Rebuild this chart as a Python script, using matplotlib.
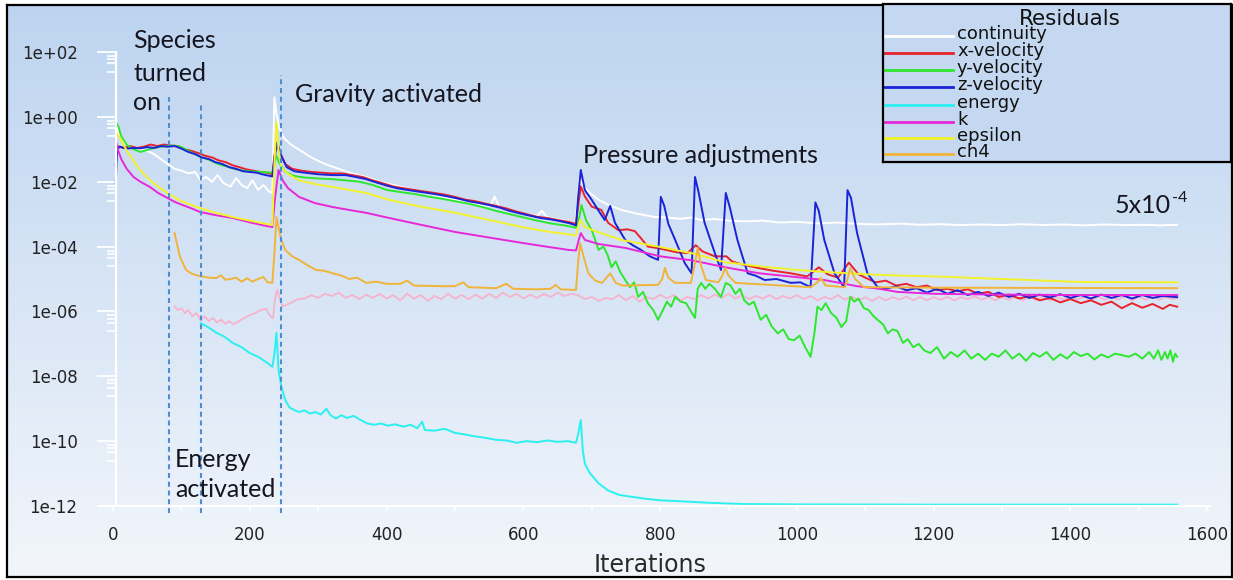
import matplotlib
matplotlib.use("Agg")
import matplotlib.pyplot as plt
import numpy as np
from matplotlib.ticker import FixedLocator, FuncFormatter

# residual histories (iteration, residual)
cont_it = [4, 7, 12, 20, 30, 40, 50, 60, 70, 80, 90, 100, 110, 120, 128, 136, 145, 153, 162, 172,
           180, 188, 196, 204, 212, 220, 228, 233, 236, 239, 243, 250, 260, 275, 290, 310, 330, 350,
           370, 390, 420, 450, 480, 500, 530, 552, 558, 565, 590, 620, 627, 635, 660, 676, 682, 688,
           697, 710, 725, 743, 765, 790, 810, 830, 845, 860, 880, 900, 925, 950, 975, 1000, 1030,
           1060, 1090, 1120, 1150, 1180, 1210, 1240, 1270, 1300, 1330, 1360, 1390, 1420, 1450, 1480,
           1510, 1530, 1556]
cont = [7.9e-1, 3.5e-1, 2.0e-1, 1.4e-1, 1.1e-1, 1.0e-1, 8.9e-2, 7.1e-2, 5.0e-2, 3.5e-2, 2.5e-2,
        2.2e-2, 1.8e-2, 2.0e-2, 1.1e-2, 1.4e-2, 1.0e-2, 1.6e-2, 8.9e-3, 7.1e-3, 1.3e-2, 7.9e-3,
        6.3e-3, 1.1e-2, 5.6e-3, 7.9e-3, 5.0e-3, 4.5e-3, 4.0e0, 1.26e0, 4.5e-1, 2.2e-1, 1.4e-1,
        8.9e-2, 5.6e-2, 3.5e-2, 2.5e-2, 1.8e-2, 1.4e-2, 1.0e-2, 7.1e-3, 5.0e-3, 3.5e-3, 2.8e-3,
        2.0e-3, 1.8e-3, 3.5e-3, 1.6e-3, 1.1e-3, 8.9e-4, 1.26e-3, 7.9e-4, 6.3e-4, 5.0e-4, 1.26e-2,
        7.1e-3, 4.5e-3, 2.8e-3, 1.9e-3, 1.35e-3, 1.05e-3, 8.3e-4, 7.9e-4, 7.2e-4, 7.9e-4, 6.6e-4,
        7.1e-4, 6.3e-4, 6.0e-4, 6.3e-4, 5.5e-4, 5.8e-4, 5.2e-4, 5.5e-4, 5.0e-4, 4.8e-4, 5.1e-4,
        4.7e-4, 4.9e-4, 4.6e-4, 4.8e-4, 4.6e-4, 4.9e-4, 4.6e-4, 4.8e-4, 4.5e-4, 4.8e-4, 4.6e-4,
        4.7e-4, 4.5e-4, 4.7e-4]

xvel_it = [4, 6, 15, 25, 35, 45, 55, 65, 75, 85, 95, 105, 115, 125, 135, 145, 155, 165, 175, 185,
           195, 205, 215, 225, 233, 236, 239, 244, 252, 262, 275, 290, 305, 320, 335, 350, 365, 380,
           395, 410, 425, 440, 455, 470, 485, 500, 515, 530, 545, 560, 575, 590, 605, 620, 635, 650,
           665, 677, 681, 684, 690, 700, 714, 724, 739, 752, 763, 772, 782, 797, 812, 825, 840, 852,
           862, 880, 897, 905, 920, 943, 965, 991, 1015, 1032, 1045, 1060, 1076, 1090, 1100, 1115,
           1130, 1145, 1160, 1175, 1190, 1205, 1220, 1235, 1250, 1265, 1280, 1295, 1310, 1325, 1340,
           1355, 1370, 1385, 1400, 1415, 1430, 1445, 1460, 1475, 1490, 1505, 1520, 1535, 1545, 1556]
xvel = [3.2e-2, 1.26e-1, 1.1e-1, 1.26e-1, 1.1e-1, 1.2e-1, 1.4e-1, 1.26e-1, 1.4e-1, 1.3e-1, 1.26e-1,
        1.0e-1, 8.9e-2, 7.6e-2, 6.3e-2, 5.6e-2, 4.5e-2, 4.0e-2, 3.2e-2, 2.8e-2, 2.4e-2, 2.2e-2,
        2.0e-2, 1.9e-2, 1.7e-2, 6.3e-2, 1.4e-1, 7.9e-2, 3.5e-2, 2.5e-2, 2.2e-2, 2.0e-2, 1.9e-2,
        1.8e-2, 1.8e-2, 1.6e-2, 1.4e-2, 1.1e-2, 8.9e-3, 7.1e-3, 6.3e-3, 5.6e-3, 5.0e-3, 4.5e-3,
        4.0e-3, 3.4e-3, 2.8e-3, 2.5e-3, 2.1e-3, 1.8e-3, 1.5e-3, 1.2e-3, 1.0e-3, 8.3e-4, 7.6e-4,
        6.6e-4, 5.8e-4, 5.0e-4, 2.5e-3, 7.1e-3, 3.5e-3, 1.7e-3, 1.35e-3, 5.4e-4, 3.2e-4, 3.4e-4,
        3.0e-4, 1.8e-4, 1.0e-4, 8.9e-5, 7.6e-5, 6.6e-5, 6.3e-5, 1.1e-4, 7.1e-5, 5.0e-5, 5.0e-5,
        3.5e-5, 2.8e-5, 2.2e-5, 1.8e-5, 1.5e-5, 1.2e-5, 2.3e-5, 1.4e-5, 1.1e-5, 3.2e-5, 1.4e-5,
        1.1e-5, 7.9e-6, 8.9e-6, 6.3e-6, 7.1e-6, 5.6e-6, 6.3e-6, 4.5e-6, 5.0e-6, 4.2e-6, 4.8e-6,
        3.5e-6, 4.0e-6, 2.8e-6, 3.3e-6, 2.5e-6, 3.0e-6, 2.2e-6, 2.6e-6, 1.9e-6, 2.4e-6, 1.8e-6,
        2.2e-6, 1.6e-6, 2.0e-6, 1.26e-6, 1.8e-6, 1.3e-6, 1.7e-6, 1.2e-6, 1.6e-6, 1.4e-6]

yvel_it = [4, 8, 12, 20, 30, 40, 50, 60, 70, 80, 90, 100, 110, 120, 130, 140, 150, 160, 170, 180,
           190, 200, 215, 233, 236, 238, 244, 252, 265, 280, 300, 320, 340, 360, 380, 400, 420, 440,
           460, 480, 500, 520, 540, 560, 580, 600, 620, 640, 660, 677, 681, 685, 692, 700, 710, 717,
           723, 729, 735, 742, 749, 756, 762, 768, 775, 782, 790, 797, 803, 810, 816, 822, 830, 838,
           845, 851, 855, 860, 866, 872, 880, 889, 896, 903, 910, 917, 923, 930, 937, 947, 955, 963,
           972, 980, 988, 996, 1004, 1012, 1020, 1026, 1030, 1036, 1042, 1050, 1058, 1065, 1072,
           1078, 1084, 1090, 1098, 1105, 1112, 1118, 1126, 1133, 1140, 1147, 1155, 1162, 1170, 1178,
           1186, 1195, 1205, 1215, 1225, 1235, 1245, 1255, 1265, 1275, 1285, 1295, 1305, 1315, 1325,
           1335, 1345, 1355, 1365, 1375, 1385, 1395, 1405, 1415, 1425, 1435, 1445, 1455, 1465, 1475,
           1485, 1495, 1505, 1515, 1522, 1528, 1533, 1538, 1542, 1546, 1550, 1553, 1556]
yvel = [7.1e-1, 5.0e-1, 2.5e-1, 1.4e-1, 1.0e-1, 8.3e-2, 9.5e-2, 1.1e-1, 1.2e-1, 1.26e-1, 1.3e-1,
        1.17e-1, 8.9e-2, 7.1e-2, 5.6e-2, 4.8e-2, 3.8e-2, 3.2e-2, 2.8e-2, 2.4e-2, 2.2e-2, 2.1e-2,
        2.0e-2, 1.9e-2, 3.2e-2, 6.6e-2, 3.5e-2, 2.0e-2, 1.5e-2, 1.35e-2, 1.26e-2, 1.2e-2, 1.1e-2,
        1.0e-2, 7.9e-3, 5.6e-3, 4.8e-3, 4.2e-3, 3.5e-3, 3.0e-3, 2.5e-3, 2.1e-3, 1.66e-3, 1.26e-3,
        1.0e-3, 7.9e-4, 6.3e-4, 5.2e-4, 4.5e-4, 3.8e-4, 6.3e-4, 1.9e-3, 6.3e-4, 3.2e-4, 7.9e-5,
        1.0e-4, 5.6e-5, 2.3e-5, 3.5e-5, 1.6e-5, 9.3e-6, 5.6e-6, 7.9e-6, 2.8e-6, 4.0e-6, 1.8e-6,
        1.1e-6, 5.5e-7, 1.0e-6, 2.0e-6, 1.4e-6, 2.8e-6, 2.0e-6, 1.8e-6, 1.0e-6, 6.3e-7, 5.0e-6,
        7.6e-6, 5.0e-6, 7.1e-6, 5.0e-6, 2.8e-6, 7.6e-6, 6.3e-6, 3.5e-6, 5.0e-6, 2.2e-6, 1.6e-6,
        2.0e-6, 5.5e-7, 7.9e-7, 3.5e-7, 2.1e-7, 2.8e-7, 1.4e-7, 1.3e-7, 1.8e-7, 7.9e-8, 4.0e-8,
        2.5e-7, 1.4e-6, 1.1e-6, 1.8e-6, 8.9e-7, 6.3e-7, 3.3e-7, 5.0e-7, 2.8e-6, 2.0e-6, 2.5e-6,
        1.26e-6, 1.1e-6, 7.1e-7, 5.5e-7, 4.0e-7, 2.1e-7, 2.8e-7, 2.5e-7, 1.07e-7, 1.4e-7, 7.9e-8,
        1.0e-7, 6.3e-8, 5.2e-8, 7.9e-8, 3.5e-8, 5.6e-8, 4.0e-8, 6.3e-8, 3.5e-8, 5.0e-8, 3.2e-8,
        5.0e-8, 4.0e-8, 6.3e-8, 3.5e-8, 5.0e-8, 3.0e-8, 5.2e-8, 4.0e-8, 5.6e-8, 3.2e-8, 4.8e-8,
        3.5e-8, 5.6e-8, 4.2e-8, 5.0e-8, 3.3e-8, 4.7e-8, 3.8e-8, 5.0e-8, 4.5e-8, 4.0e-8, 5.0e-8,
        3.5e-8, 5.6e-8, 3.5e-8, 6.3e-8, 3.2e-8, 5.6e-8, 3.5e-8, 6.3e-8, 2.8e-8, 5.0e-8, 4.0e-8]

zvel_it = [4, 6, 10, 20, 30, 40, 50, 60, 70, 80, 90, 100, 110, 120, 130, 140, 150, 160, 170, 180,
           190, 200, 210, 220, 233, 236, 240, 246, 254, 265, 280, 300, 320, 340, 355, 370, 385, 400,
           415, 430, 445, 460, 475, 490, 505, 520, 535, 550, 565, 580, 595, 610, 625, 640, 655, 668,
           677, 680, 684, 690, 700, 712, 719, 727, 734, 749, 760, 772, 785, 797, 801, 806, 812, 822,
           836, 846, 851, 856, 865, 880, 889, 896, 902, 913, 928, 940, 953, 970, 991, 1005, 1020,
           1027, 1032, 1040, 1055, 1069, 1074, 1079, 1088, 1103, 1118, 1130, 1145, 1160, 1175, 1190,
           1205, 1220, 1235, 1250, 1265, 1280, 1295, 1310, 1325, 1340, 1355, 1370, 1385, 1400, 1415,
           1430, 1445, 1460, 1475, 1490, 1505, 1520, 1535, 1556]
zvel = [8.9e-3, 1.0e-1, 1.2e-1, 1.05e-1, 1.1e-1, 1.07e-1, 1.17e-1, 1.1e-1, 1.26e-1, 1.2e-1, 1.26e-1,
        1.05e-1, 8.3e-2, 7.1e-2, 5.6e-2, 5.0e-2, 4.0e-2, 3.5e-2, 2.8e-2, 2.5e-2, 2.1e-2, 2.0e-2,
        1.9e-2, 1.66e-2, 1.45e-2, 5.0e-2, 1.66e-1, 6.3e-2, 2.8e-2, 2.1e-2, 1.9e-2, 1.7e-2, 1.6e-2,
        1.6e-2, 1.4e-2, 1.2e-2, 9.5e-3, 7.6e-3, 6.3e-3, 5.6e-3, 5.0e-3, 4.5e-3, 4.0e-3, 3.5e-3,
        3.0e-3, 2.5e-3, 2.2e-3, 1.9e-3, 1.6e-3, 1.26e-3, 1.05e-3, 8.9e-4, 7.6e-4, 6.9e-4, 6.0e-4,
        5.2e-4, 4.5e-4, 3.2e-3, 2.3e-2, 5.5e-3, 2.75e-3, 1.1e-3, 6.6e-4, 1.8e-3, 5.4e-4, 1.6e-4,
        1.1e-4, 7.9e-5, 5.0e-5, 3.9e-5, 3.4e-3, 1.8e-3, 5.0e-4, 1.6e-4, 3.1e-5, 1.5e-5, 1.4e-2,
        5.0e-3, 5.4e-4, 6.3e-5, 1.9e-5, 4.5e-3, 1.6e-3, 1.6e-4, 1.5e-5, 1.26e-5, 9.3e-6, 1.0e-5,
        7.6e-6, 7.9e-6, 5.6e-6, 2.3e-3, 1.26e-3, 1.6e-4, 1.5e-5, 5.6e-6, 5.5e-3, 3.2e-3, 2.6e-4,
        1.5e-5, 5.6e-6, 5.0e-6, 6.0e-6, 4.5e-6, 5.2e-6, 3.8e-6, 5.0e-6, 3.5e-6, 4.5e-6, 3.2e-6,
        4.0e-6, 3.0e-6, 3.8e-6, 2.8e-6, 3.5e-6, 2.6e-6, 3.3e-6, 2.7e-6, 3.4e-6, 2.6e-6, 3.2e-6,
        2.5e-6, 3.3e-6, 2.6e-6, 3.2e-6, 2.5e-6, 3.2e-6, 2.6e-6, 3.0e-6, 2.75e-6]

energy_it = [128, 140, 151, 163, 175, 188, 200, 212, 224, 233, 236, 239, 242, 246, 252, 258, 266,
             272, 280, 288, 296, 304, 312, 318, 326, 334, 342, 352, 362, 372, 382, 392, 402, 412,
             425, 435, 445, 452, 456, 470, 485, 500, 515, 530, 545, 560, 575, 590, 605, 620, 635,
             650, 665, 677, 680, 684, 687, 690, 697, 710, 724, 740, 760, 780, 800, 830, 870, 920,
             1000, 1200, 1556]
energy = [4.4e-7, 3.2e-7, 2.2e-7, 1.66e-7, 1.07e-7, 7.9e-8, 5.2e-8, 4.0e-8, 2.75e-8, 1.95e-8,
          5.0e-8, 2.2e-7, 1.6e-8, 5.0e-9, 1.8e-9, 1.1e-9, 8.9e-10, 7.9e-10, 8.9e-10, 7.1e-10,
          7.9e-10, 6.6e-10, 1.0e-9, 6.3e-10, 5.0e-10, 6.3e-10, 5.2e-10, 6.0e-10, 4.5e-10, 3.5e-10,
          3.2e-10, 3.5e-10, 3.0e-10, 3.3e-10, 2.8e-10, 3.2e-10, 2.5e-10, 4.0e-10, 2.2e-10, 2.1e-10,
          2.4e-10, 1.8e-10, 1.6e-10, 1.4e-10, 1.26e-10, 1.1e-10, 1.05e-10, 8.9e-11, 1.0e-10,
          9.3e-11, 1.05e-10, 9.5e-11, 1.0e-10, 8.9e-11, 1.6e-10, 4.5e-10, 5.0e-11, 2.0e-11,
          1.05e-11, 5.0e-12, 3.0e-12, 2.2e-12, 1.9e-12, 1.66e-12, 1.5e-12, 1.4e-12, 1.26e-12,
          1.15e-12, 1.12e-12, 1.1e-12, 1.1e-12]

k_it = [4, 7, 12, 20, 30, 40, 54, 66, 79, 90, 102, 115, 127, 150, 175, 200, 220, 233, 237, 242, 248,
        256, 272, 295, 321, 345, 370, 404, 450, 501, 550, 598, 640, 666, 677, 681, 684, 690, 710,
        749, 800, 845, 900, 945, 974, 1040, 1088, 1120, 1147, 1200, 1300, 1400, 1556]
k_res = [1.95e-1, 1.0e-1, 5.0e-2, 2.5e-2, 1.4e-2, 1.0e-2, 6.9e-3, 4.5e-3, 3.2e-3, 2.4e-3, 1.9e-3,
         1.5e-3, 1.17e-3, 9.3e-4, 7.6e-4, 5.6e-4, 4.5e-4, 4.0e-4, 3.2e-3, 2.3e-2, 1.1e-2, 6.3e-3,
         3.4e-3, 2.2e-3, 1.66e-3, 1.35e-3, 1.1e-3, 7.6e-4, 4.7e-4, 2.8e-4, 1.9e-4, 1.3e-4, 9.5e-5,
         7.9e-5, 7.6e-5, 1.6e-4, 2.6e-4, 1.6e-4, 1.2e-4, 9.1e-5, 5.0e-5, 3.8e-5, 2.2e-5, 1.5e-5,
         1.3e-5, 9.3e-6, 6.0e-6, 5.0e-6, 4.0e-6, 3.5e-6, 3.3e-6, 3.2e-6, 3.2e-6]

eps_it = [4, 9, 15, 22, 29, 40, 54, 66, 79, 100, 127, 150, 175, 200, 220, 233, 236, 239, 242, 246,
          255, 272, 295, 321, 345, 370, 404, 450, 501, 550, 598, 640, 666, 677, 680, 683, 690, 700,
          743, 797, 850, 895, 950, 1000, 1040, 1100, 1137, 1200, 1300, 1414, 1556]
eps = [3.5e-1, 2.5e-1, 1.4e-1, 7.9e-2, 4.7e-2, 2.2e-2, 1.1e-2, 7.1e-3, 4.5e-3, 2.5e-3, 1.55e-3,
       1.1e-3, 8.1e-4, 6.3e-4, 5.2e-4, 4.6e-4, 3.2e-2, 6.9e-1, 1.0e-1, 2.8e-2, 1.8e-2, 1.1e-2,
       8.5e-3, 6.9e-3, 5.6e-3, 4.5e-3, 2.75e-3, 1.7e-3, 1.1e-3, 6.6e-4, 4.0e-4, 2.8e-4, 2.4e-4,
       2.2e-4, 4.0e-4, 6.6e-4, 4.0e-4, 3.3e-4, 1.6e-4, 1.0e-4, 6.0e-5, 3.3e-5, 2.4e-5, 1.9e-5,
       1.66e-5, 1.4e-5, 1.3e-5, 1.2e-5, 1.0e-5, 8.1e-6, 7.9e-6]

ch4_it = [90, 94, 98, 103, 107, 114, 122, 130, 140, 151, 158, 164, 172, 180, 188, 196, 204, 212,
          220, 226, 233, 236, 239, 242, 246, 252, 262, 272, 285, 297, 309, 321, 333, 345, 357, 370,
          385, 400, 420, 430, 440, 480, 500, 512, 520, 560, 575, 585, 620, 640, 647, 655, 677, 680,
          683, 688, 695, 705, 715, 727, 735, 745, 797, 803, 807, 812, 822, 845, 850, 855, 860, 867,
          885, 891, 895, 900, 910, 1020, 1030, 1035, 1042, 1070, 1074, 1078, 1085, 1098, 1200, 1556]
ch4 = [2.6e-4, 1.1e-4, 4.8e-5, 2.8e-5, 1.9e-5, 1.5e-5, 1.3e-5, 1.2e-5, 1.1e-5, 1.07e-5, 1.3e-5,
       9.5e-6, 1.0e-5, 1.1e-5, 8.3e-6, 1.05e-5, 8.3e-6, 1.0e-5, 1.15e-5, 7.9e-6, 7.6e-6, 6.3e-5,
       8.1e-4, 4.0e-4, 1.6e-4, 7.9e-5, 5.0e-5, 3.9e-5, 2.6e-5, 1.9e-5, 1.8e-5, 1.5e-5, 1.3e-5,
       1.0e-5, 1.1e-5, 7.6e-6, 8.3e-6, 7.1e-6, 7.1e-6, 8.9e-6, 6.3e-6, 6.0e-6, 6.0e-6, 7.9e-6,
       5.6e-6, 5.2e-6, 7.1e-6, 5.0e-6, 4.8e-6, 5.0e-6, 6.6e-6, 4.8e-6, 4.6e-6, 3.2e-5, 1.26e-4,
       5.0e-5, 1.5e-5, 8.9e-6, 7.6e-6, 1.5e-5, 7.6e-6, 6.3e-6, 6.6e-6, 1.0e-5, 2.2e-5, 1.1e-5,
       7.6e-6, 7.6e-6, 2.5e-5, 9.1e-5, 2.5e-5, 9.3e-6, 7.9e-6, 1.26e-5, 2.2e-5, 1.26e-5, 7.6e-6,
       5.6e-6, 7.9e-6, 1.07e-5, 6.3e-6, 5.6e-6, 1.0e-5, 2.2e-5, 1.0e-5, 5.6e-6, 5.4e-6, 5.2e-6]

# unlabelled species residual (light pink trace)
spec_it = [90, 95, 100, 105, 110, 116, 122, 128, 134, 140, 146, 152, 158, 164, 170, 176, 184, 192,
           200, 208, 216, 224, 230, 234, 237, 240, 244, 248, 255, 262, 270, 280, 290, 300, 310, 320,
           330, 340, 350, 360, 370, 380, 390, 400, 410, 420, 430, 440, 450, 460, 470, 480, 490, 500,
           510, 520, 530, 540, 550, 560, 570, 580, 590, 600, 610, 620, 630, 640, 650, 660, 670, 680,
           690, 700, 710, 720, 730, 740, 750, 760, 770, 780, 790, 800, 810, 820, 830, 840, 850, 860,
           870, 880, 890, 900, 910, 920, 930, 940, 950, 960, 970, 980, 990, 1000, 1010, 1020, 1030,
           1040, 1050, 1060, 1070, 1080, 1090, 1100, 1110, 1120, 1130, 1140, 1150, 1160, 1170, 1180,
           1190, 1200, 1210, 1220, 1230, 1240, 1250, 1260, 1270, 1280, 1290, 1300, 1310, 1320, 1330,
           1340, 1350, 1360, 1370, 1380, 1390, 1400, 1410, 1420, 1430, 1440, 1450, 1460, 1470, 1480,
           1490, 1500, 1510, 1520, 1530, 1540, 1550, 1556]
spec = [1.4e-6, 1.1e-6, 1.26e-6, 8.9e-7, 1.1e-6, 7.1e-7, 8.9e-7, 5.5e-7, 7.1e-7, 5.0e-7, 6.3e-7,
        4.5e-7, 5.6e-7, 4.2e-7, 5.0e-7, 4.0e-7, 5.0e-7, 6.3e-7, 7.6e-7, 8.9e-7, 1.1e-6, 1.2e-6,
        7.1e-7, 6.3e-7, 2.5e-6, 4.6e-6, 2.5e-6, 1.4e-6, 1.66e-6, 1.9e-6, 2.4e-6, 2.5e-6, 3.2e-6,
        2.6e-6, 3.5e-6, 3.0e-6, 3.8e-6, 2.6e-6, 3.2e-6, 2.4e-6, 3.3e-6, 2.6e-6, 3.5e-6, 2.5e-6,
        3.2e-6, 2.2e-6, 3.5e-6, 2.5e-6, 3.2e-6, 2.1e-6, 3.0e-6, 2.4e-6, 3.5e-6, 2.5e-6, 3.2e-6,
        2.4e-6, 3.3e-6, 2.5e-6, 3.5e-6, 2.6e-6, 3.8e-6, 2.8e-6, 3.5e-6, 2.5e-6, 3.3e-6, 2.6e-6,
        3.5e-6, 2.8e-6, 3.8e-6, 3.0e-6, 3.5e-6, 3.2e-6, 2.4e-6, 2.8e-6, 2.1e-6, 2.6e-6, 2.4e-6,
        3.2e-6, 2.2e-6, 3.0e-6, 2.0e-6, 2.8e-6, 2.4e-6, 3.3e-6, 2.5e-6, 3.2e-6, 2.2e-6, 2.8e-6,
        2.4e-6, 3.2e-6, 2.5e-6, 3.3e-6, 2.6e-6, 3.5e-6, 2.5e-6, 3.2e-6, 2.4e-6, 3.0e-6, 2.5e-6,
        3.2e-6, 2.4e-6, 3.0e-6, 2.5e-6, 3.2e-6, 2.4e-6, 3.0e-6, 2.2e-6, 2.8e-6, 2.4e-6, 3.2e-6,
        2.3e-6, 2.9e-6, 2.2e-6, 2.75e-6, 2.1e-6, 2.8e-6, 2.2e-6, 2.75e-6, 2.3e-6, 2.9e-6, 2.2e-6,
        2.8e-6, 2.2e-6, 2.75e-6, 2.3e-6, 2.8e-6, 2.2e-6, 2.75e-6, 2.4e-6, 2.9e-6, 2.3e-6, 2.8e-6,
        2.2e-6, 2.75e-6, 2.3e-6, 2.9e-6, 2.2e-6, 2.8e-6, 2.3e-6, 3.0e-6, 2.2e-6, 2.8e-6, 2.3e-6,
        2.9e-6, 2.3e-6, 2.8e-6, 2.2e-6, 2.9e-6, 2.3e-6, 2.8e-6, 2.3e-6, 3.0e-6, 2.2e-6, 2.8e-6,
        2.3e-6, 2.9e-6, 2.3e-6, 2.8e-6, 2.4e-6, 2.6e-6]

names = ['continuity', 'x-velocity', 'y-velocity', 'z-velocity', 'energy', 'k', 'epsilon', 'ch4']
colors = ['#ffffff', '#e8232d', '#2ee62e', '#1a24d6', '#2af0f0', '#e628d8', '#f2f22a', '#f0b43a']
series = [(cont_it, cont), (xvel_it, xvel), (yvel_it, yvel), (zvel_it, zvel),
          (energy_it, energy), (k_it, k_res), (eps_it, eps), (ch4_it, ch4)]

# event markers (iteration) for the annotations
events = [82, 128, 245]
event_tops = [0.90, 0.89, 0.95]

W, H = 1233, 580
fig = plt.figure(figsize=(W / 100, H / 100), dpi=100, facecolor='white')

# gradient background inside the black frame
bg = fig.add_axes([7 / W, 3 / H, 1225 / W, 572 / H])
top = np.array([0.74, 0.83, 0.94])
bot = np.array([0.95, 0.965, 0.985])
t = np.linspace(0, 1, 256)[:, None]
grad = top * (1 - t) + bot * t
bg.imshow(grad[:, None, :], extent=[0, 1, 0, 1], aspect='auto')
bg.set_xticks([])
bg.set_yticks([])
for s in bg.spines.values():
    s.set_color('black')
    s.set_linewidth(1.6)

ax = fig.add_axes([100 / W, (H - 506) / H, 1110 / W, 454 / H])
ax.set_facecolor('none')
ax.set_yscale('log')
ax.set_xlim(-19, 1604)
ax.set_ylim(1e-12, 1e2)

ax.plot(spec_it, spec, color='#f7b2cc', lw=1.3)
for (xi, yi), c in zip(series, colors):
    ax.plot(xi, yi, color=c, lw=1.4)

for x, tp in zip(events, event_tops):
    ax.axvline(x, ymin=-0.016, ymax=tp, color='#4a8fd4', lw=1.5,
               linestyle=(0, (2.4, 1.8)), clip_on=False)

for side in ['top', 'right']:
    ax.spines[side].set_visible(False)
ax.spines['left'].set_position(('data', 5))
for side in ['left', 'bottom']:
    ax.spines[side].set_color('white')
    ax.spines[side].set_linewidth(1.6)

ax.yaxis.set_major_locator(FixedLocator([10.0 ** k for k in range(-12, 3, 2)]))
ax.yaxis.set_minor_locator(FixedLocator([10.0 ** k * f for k in range(-10, 3, 2)
                                         for f in (0.75, 0.6, 0.45, 0.25)]))
ax.yaxis.set_major_formatter(FuncFormatter(lambda v, p: '1e%+03d' % round(np.log10(v))))
ax.xaxis.set_major_locator(FixedLocator(range(0, 1601, 200)))
ax.xaxis.set_minor_locator(FixedLocator(range(100, 1600, 200)))

tick_font = ['Liberation Sans Narrow', 'DejaVu Sans']
ax.tick_params(axis='y', which='major', length=13.5, width=1.3, color='white', pad=14.5,
               labelsize=12, labelcolor='#222222')
ax.tick_params(axis='y', which='minor', length=6.5, width=1.2, color='white')
ax.tick_params(axis='x', which='both', length=3.5, width=1.2, color='white', pad=11,
               labelsize=12, labelcolor='#222222')
for lab in ax.get_xticklabels() + ax.get_yticklabels():
    lab.set_family(tick_font)

fig.text(650 / W, 1 - 565 / H, 'Iterations', ha='center', va='center',
         fontsize=17, color='#2a2a2a')

# legend box drawn like the solver's monitor legend
lax = fig.add_axes([883 / W, 1 - 162 / H, 348 / W, 158 / H])
lax.set_xlim(883, 1231)
lax.set_ylim(162, 4)
lax.set_facecolor('#c4d9f1')
lax.set_xticks([])
lax.set_yticks([])
for s in lax.spines.values():
    s.set_color('black')
    s.set_linewidth(1.6)
lax.text(1070, 19, 'Residuals', ha='center', va='center', fontsize=15.5, color='#111111')
leg_y = [36, 53, 70, 87, 105, 122, 138, 154]
for name, c, y in zip(names, colors, leg_y):
    lax.plot([884, 953], [y, y], color=c, lw=2)
    lax.text(957, y - 2, name, ha='left', va='center', fontsize=13, color='#111111')

# slide annotations
ann_font = ['Lato', 'DejaVu Sans']
notes = [('Species', 133, 48), ('turned', 133, 81), ('on', 133, 110),
         ('Gravity activated', 295, 102), ('Pressure adjustments', 583, 163),
         ('Energy', 175, 467), ('activated', 175, 497), ('5x10', 1115, 213)]
for txt, px, py in notes:
    fig.text(px / W, 1 - py / H, txt, ha='left', va='baseline', fontsize=18,
             color='#15151f', family=ann_font)
fig.text(1172 / W, 1 - 202 / H, '-4', ha='left', va='baseline', fontsize=11.5,
         color='#15151f', family=ann_font)

fig.savefig('out.png', dpi=100, facecolor='white')
